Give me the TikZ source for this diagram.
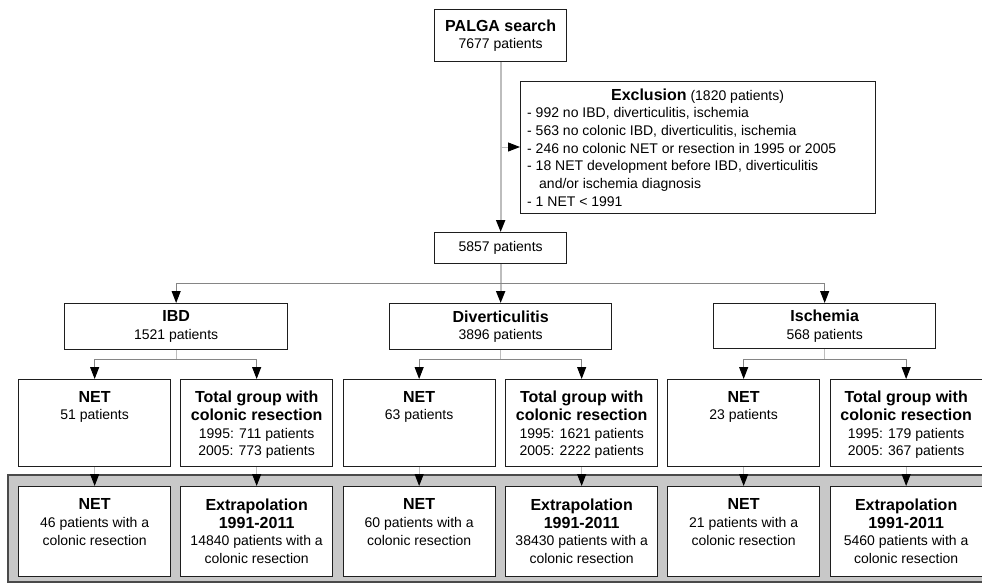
\documentclass[tikz,border=0pt]{standalone}
\usepackage{fontspec}
\setmainfont{Liberation Sans}
\usetikzlibrary{arrows.meta,calc}
\definecolor{lightline}{HTML}{BDBDBD}
\definecolor{midline}{HTML}{858585}
\definecolor{panelfill}{HTML}{C8C8C8}
\definecolor{panelborder}{HTML}{4A4A4A}
\definecolor{boxborder}{HTML}{1E1E1E}
\newcommand{\bl}[1]{{\fontsize{16}{17.7}\selectfont\bfseries #1}}
\begin{document}
\begin{tikzpicture}[x=1pt,y=-1pt,
  font=\fontsize{14}{17.7}\selectfont,
  box/.style={draw=boxborder, line width=1.3pt, fill=white, inner sep=0pt},
  colbox/.style={box, anchor=north west, minimum width=152pt},
  txt/.style={inner sep=0pt, align=center, anchor=north},
  tip/.style={-{Triangle[length=12pt,width=9pt,black]}},
  vlight/.style={draw=lightline, line width=1pt},
  hmid/.style={draw=midline, line width=1pt}]
\useasboundingbox (0,0) rectangle (982,584);

% gray panel
\path[fill=panelfill, draw=panelborder, line width=2pt] (8,475) rectangle (992,582);

% top
\node[box, anchor=north west, minimum width=132pt, minimum height=52pt, align=center] (palga) at (434,9)
  {\bl{PALGA search}\\7677 patients};
\node[box, anchor=north west, minimum width=355pt, minimum height=132pt] (excl) at (520,81) {};
\node[txt] (exclt) at (697.5,89) {\bl{Exclusion} (1820 patients)};
\node[inner sep=0pt, align=left, anchor=north west] (excll) at (527,107.5)
  {- 992 no IBD, diverticulitis, ischemia\\
   - 563 no colonic IBD, diverticulitis, ischemia\\
   - 246 no colonic NET or resection in 1995 or 2005\\
   - 18 NET development before IBD, diverticulitis\\
   \hspace*{12pt}and/or ischemia diagnosis\\
   - 1 NET < 1991};
\node[box, anchor=north west, minimum width=132pt, minimum height=31pt] (n5857) at (434,232) {5857 patients};

% groups
\node[box, anchor=north west, minimum width=223pt, minimum height=46pt, align=center] (ibd) at (64,303)
  {\bl{IBD}\\1521 patients};
\node[box, anchor=north west, minimum width=222pt, minimum height=46pt, align=center] (div) at (389,303)
  {\bl{Diverticulitis}\\3896 patients};
\node[box, anchor=north west, minimum width=222pt, minimum height=45pt, align=center] (isch) at (713,303)
  {\bl{Ischemia}\\568 patients};

% middle row
\node[colbox, minimum height=87pt] (m1) at (18,379) {};
\node[colbox, minimum height=87pt] (m2) at (180,379) {};
\node[colbox, minimum height=87pt] (m3) at (342.5,379) {};
\node[colbox, minimum height=87pt] (m4) at (505,379) {};
\node[colbox, minimum height=87pt] (m5) at (667,379) {};
\node[colbox, minimum height=87pt] (m6) at (829.5,379) {};
\node[txt] (mt1) at ($(m1.north)+(0,12)$) {\bl{NET}\\51 patients};
\node[txt] (mt2) at ($(m2.north)+(0,12)$) {\bl{Total group with}\\\bl{colonic resection}\\1995: 711 patients\\2005: 773 patients};
\node[txt] (mt3) at ($(m3.north)+(0,12)$) {\bl{NET}\\63 patients};
\node[txt] (mt4) at ($(m4.north)+(0,12)$) {\bl{Total group with}\\\bl{colonic resection}\\1995: 1621 patients\\2005: 2222 patients};
\node[txt] (mt5) at ($(m5.north)+(0,12)$) {\bl{NET}\\23 patients};
\node[txt] (mt6) at ($(m6.north)+(0,12)$) {\bl{Total group with}\\\bl{colonic resection}\\1995: 179 patients\\2005: 367 patients};

% bottom row
\node[colbox, minimum height=90pt] (b1) at (18,486) {};
\node[colbox, minimum height=90pt] (b2) at (180,486) {};
\node[colbox, minimum height=90pt] (b3) at (342.5,486) {};
\node[colbox, minimum height=90pt] (b4) at (505,486) {};
\node[colbox, minimum height=90pt] (b5) at (667,486) {};
\node[colbox, minimum height=90pt] (b6) at (829.5,486) {};
\node[txt] (bt1) at ($(b1.north)+(0,12.5)$) {\bl{NET}\\46 patients with a\\colonic resection};
\node[txt] (bt2) at ($(b2.north)+(0,12.5)$) {\bl{Extrapolation}\\\bl{1991-2011}\\14840 patients with a\\colonic resection};
\node[txt] (bt3) at ($(b3.north)+(0,12.5)$) {\bl{NET}\\60 patients with a\\colonic resection};
\node[txt] (bt4) at ($(b4.north)+(0,12.5)$) {\bl{Extrapolation}\\\bl{1991-2011}\\38430 patients with a\\colonic resection};
\node[txt] (bt5) at ($(b5.north)+(0,12.5)$) {\bl{NET}\\21 patients with a\\colonic resection};
\node[txt] (bt6) at ($(b6.north)+(0,12.5)$) {\bl{Extrapolation}\\\bl{1991-2011}\\5460 patients with a\\colonic resection};

% connectors top
\draw[vlight, line width=2pt, tip] (palga) -- (n5857);
\coordinate (exj) at (500,147);
\draw[vlight, tip] (exj) -- (exj -| excl.west);

% branches to groups
\coordinate (br) at (500,283.5);
\draw[vlight, line width=2pt, tip] (n5857) -- (div);
\draw[hmid] (br -| ibd.north) -- (br -| isch.north);
\draw[hmid, tip] (br -| ibd.north) -- (ibd.north);
\draw[hmid, tip] (br -| isch.north) -- (isch.north);

% sub-branches
\coordinate (sb) at (0,359.3);
\draw[vlight] (ibd.south) -- (sb -| ibd.south);
\draw[hmid] (sb -| m1.north) -- (sb -| m2.north);
\draw[hmid, tip] (sb -| m1.north) -- (m1.north);
\draw[hmid, tip] (sb -| m2.north) -- (m2.north);
\draw[vlight] (div.south) -- (sb -| div.south);
\draw[hmid] (sb -| m3.north) -- (sb -| m4.north);
\draw[hmid, tip] (sb -| m3.north) -- (m3.north);
\draw[hmid, tip] (sb -| m4.north) -- (m4.north);
\draw[vlight] (isch.south) -- (sb -| isch.south);
\draw[hmid] (sb -| m5.north) -- (sb -| m6.north);
\draw[hmid, tip] (sb -| m5.north) -- (m5.north);
\draw[hmid, tip] (sb -| m6.north) -- (m6.north);

% middle to bottom
\draw[vlight, tip] (m1) -- (b1);
\draw[vlight, tip] (m2) -- (b2);
\draw[vlight, tip] (m3) -- (b3);
\draw[vlight, tip] (m4) -- (b4);
\draw[vlight, tip] (m5) -- (b5);
\draw[vlight, tip] (m6) -- (b6);
\end{tikzpicture}
\end{document}
